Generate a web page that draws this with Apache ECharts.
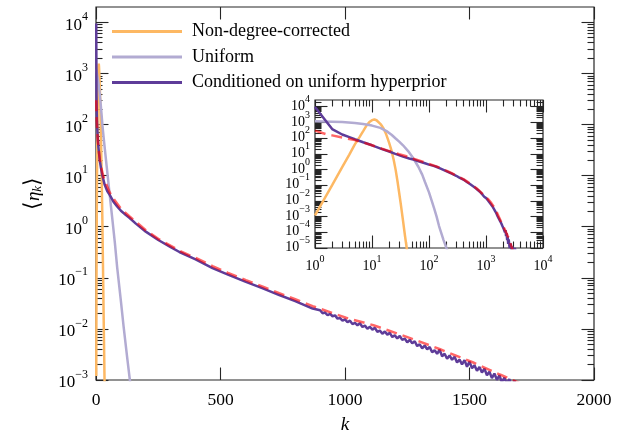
<!DOCTYPE html>
<html>
<head>
<meta charset="utf-8">
<script src="https://cdn.jsdelivr.net/npm/echarts@6.0.0/dist/echarts.min.js"></script>
<style>
html,body{margin:0;padding:0;background:#ffffff;}
#chart{width:628px;height:439px;}
</style>
</head>
<body>
<div id="chart"></div>
<script>
// ---------------- data (k, <eta_k>) ----------------
const kNonDegree = [1,2,3,4,5,6,7,8,9,10,11,12,13,14,15,16,17,18,20,22,24,26,28,30,32,35,38,41,43];
const etaNonDegree = [1.2e-3,0.1,1.4,9,40,112,280,630,1050,1400,1550,1380,1070,810,590,400,250,150,50,16,4.2,0.95,0.18,0.032,6.3e-3,5.6e-4,5.6e-5,7.9e-6,3e-6];

const kUniform = [1,2,3,5,7,10,14,18,22,26,30,35,43,53,65,76,85,100,111,125,136,150,166,180,191,200,210,220];
const etaUniform = [1200,1120,1050,910,790,630,450,280,165,95,60,35,15,5.2,1.5,0.47,0.16,0.035,0.011,0.0028,0.001,2.5e-4,8e-5,3.2e-5,1.8e-5,1.1e-5,7e-6,5e-6];

const kConditioned = [1,2,3,4,5,7,10,15,20,25,35,45,55,70,85,100,120,134,160,200,250,300,335,400,468,530,602,670,736,800,870,
  900,910,920,930,940,950,960,970,980,990,1000,1010,1020,1030,1040,1050,1060,1070,1080,1090,
  1100,1110,1120,1130,1140,1150,1160,1170,1180,1190,1200,1210,1220,1230,1240,1250,1260,1270,1280,1290,
  1300,1310,1320,1330,1340,1350,1360,1370,1380,1390,1400,1410,1420,1430,1440,1450,1460,1470,1480,1490,
  1500,1510,1520,1530,1540,1550,1560,1570,1580,1590,1600,1610,1620,1630,1640,1650,1660,1670,1680,1690,1700,
  1750,1800,1850,1900,1950,2000,2050,2100,2150,2200,2250,2300,2350,2400,2450,2500,2600,2700,2800,2900,3000,3200,3400];
const etaConditioned = [9500,380,170,115,85,55,35,20,14,10.3,6.6,5.0,4.2,3.1,2.5,2.05,1.7,1.5,1.15,0.8,0.55,0.4,0.32,0.23,0.155,0.115,0.083,0.062,0.046,0.035,0.025,
  0.0232,0.0203,0.0209,0.0185,0.0197,0.0177,0.0184,0.0159,0.0163,0.0145,0.0154,0.0135,0.0145,0.0124,0.0131,0.0118,0.0129,0.0109,0.0116,0.0101,
  0.0110,0.00968,0.0105,0.00879,0.00927,0.00805,0.00891,0.00773,0.00836,0.00692,0.00748,0.00650,0.00726,0.00610,0.00650,0.00545,0.00612,0.00521,0.00573,0.00461,
  0.00500,0.00417,0.00473,0.00399,0.00443,0.00348,0.00383,0.00326,0.00393,0.00291,0.00327,0.00260,0.00303,0.00249,0.00286,0.00220,0.00250,0.00203,0.00245,0.00182,
  0.00229,0.00170,0.00195,0.00151,0.00180,0.00140,0.00167,0.00124,0.00145,0.00109,0.00134,0.00101,0.00124,9.0e-4,0.00111,8.5e-4,0.00104,7.6e-4,9.8e-4,7.1e-4,8.6e-4,
  5.6e-4,5.2e-4,3.8e-4,4.0e-4,2.4e-4,2.6e-4,1.6e-4,2.0e-4,1.0e-4,1.4e-4,5.6e-5,8.9e-5,3.2e-5,5.6e-5,1.8e-5,3.5e-5,1.0e-5,2.0e-5,6.3e-6,1.26e-5,5e-6,1e-5,4e-6];

const kFit = [1,1.6,2,3,4,5,7,10,15,20,30,40,55,75,100,134,160,200,250,335,400,468,530,602,670,736,800,870,1004,1114,1248,1382,1515,1622,1700,1800,2000,2200,2450,2800,3200];
const etaFit = [300,175,150,110,88,75,53,35,21,15,9.5,7,4.7,3.3,2.25,1.6,1.25,0.85,0.58,0.34,0.245,0.17,0.125,0.09,0.067,0.05,0.038,0.028,0.0165,0.0118,0.0070,0.0040,0.0022,0.00128,0.00088,5.6e-4,2.5e-4,1.2e-4,5e-5,1.26e-5,2.5e-6];

const seriesNames = ['Non-degree-corrected','Uniform','Conditioned on uniform hyperprior'];

// ---------------- axes / ticks ----------------
const mainXTicks = [0,500,1000,1500,2000];
const mainYMajor = [1e-3,1e-2,1e-1,1,10,100,1000,10000];
const insetXMajor = [1,10,100,1000,10000];
const insetYMajor = [1e-5,1e-4,1e-3,1e-2,1e-1,1,10,100,1000,10000];
const insetYLabelsEven = [1e-4,1e-2,1,100,10000];
const insetYLabelsOdd = [1e-5,1e-3,1e-1,10,1000];
const mainYRange = [1e-3, Math.pow(10,4.3)];
const insetXRange = [1, 1e4];
const insetYRange = [1e-5, Math.pow(10,4.43)];

function minorOf(majors, lo, hi){
  const out=[];
  majors.forEach(m=>{for(let j=2;j<=9;j++){const v=m*j; if(v>lo && v<hi) out.push(v);}});
  return out;
}
const mainYMinor = minorOf(mainYMajor, mainYRange[0], mainYRange[1]);
const insetXMinor = minorOf(insetXMajor, insetXRange[0], insetXRange[1]);
const insetYMinor = minorOf(insetYMajor, insetYRange[0], insetYRange[1]);

const FONT = 'Liberation Serif';
const AXC = '#262626';
const MAJ = 12.5, MIN = 6.5;

function powLabel(v){
  const e = Math.round(Math.log10(v));
  return '{b|10}{s|' + (e < 0 ? '\u2212' + (-e) : String(e)) + '}';
}
function powRich(big, small, pad){
  return {
    b:{fontSize:big,fontFamily:FONT,color:'#000',verticalAlign:'bottom',padding:[pad,0,0,0]},
    s:{fontSize:small,fontFamily:FONT,color:'#000',verticalAlign:'top'}
  };
}

function axis(type, gridIndex, position, range, ticks, len, label, labelValues, extra){
  const a = {
    type: type, gridIndex: gridIndex, position: position,
    min: range[0]*(type==='log'?0.999999:1), max: range[1]*(type==='log'?1.000001:1),
    axisLine:{show:false,onZero:false},
    axisTick:{show:true,inside:true,length:len,customValues:ticks,lineStyle:{color:AXC,width:1.1}},
    axisLabel: label ? Object.assign({customValues:labelValues||ticks,showMinLabel:true,showMaxLabel:true,hideOverlap:false}, label) : {show:false},
    splitLine:{show:false},
    minorTick:{show:false},
    minorSplitLine:{show:false},
    silent:true
  };
  if (type==='log') a.logBase = 10;
  return Object.assign(a, extra||{});
}

const mainYLabel = {show:true,margin:8,formatter:powLabel,rich:powRich(17,12,6)};
const insetYLabel = {show:true,margin:5,formatter:powLabel,rich:powRich(14,10,5),padding:[0,0,6,0]};
const insetXLabel = {show:true,margin:6,formatter:powLabel,rich:powRich(14,10,5)};
const mainXLabel = {show:true,margin:11,fontSize:17.5,fontFamily:FONT,color:'#000',formatter:function(v){return String(v);}};

const xAxes = [
  axis('value',0,'bottom',[0,2000],mainXTicks,MAJ,mainXLabel,null,{
    name:'k',nameLocation:'middle',nameGap:35,
    nameTextStyle:{fontSize:19,fontStyle:'italic',fontFamily:FONT,color:'#000'}}),
  axis('value',0,'top',[0,2000],mainXTicks,MAJ,null),
  axis('log',1,'bottom',insetXRange,insetXMajor,MAJ,insetXLabel),
  axis('log',1,'bottom',insetXRange,insetXMinor,MIN,null),
  axis('log',1,'top',insetXRange,insetXMajor,MAJ,null),
  axis('log',1,'top',insetXRange,insetXMinor,MIN,null)
];
const yAxes = [
  axis('log',0,'left',mainYRange,mainYMajor,MAJ,mainYLabel,null,{
    name:'{a|\u27E8}{e|\u03B7}{k|k}{a|\u27E9}',nameLocation:'middle',nameGap:52,nameRotate:90,
    nameTextStyle:{color:'#000',rich:{
      a:{fontSize:22,fontFamily:FONT,color:'#000',verticalAlign:'top'},
      e:{fontSize:19,fontFamily:FONT,fontStyle:'italic',color:'#000',verticalAlign:'top',padding:[2,0,0,0]},
      k:{fontSize:13,fontFamily:FONT,fontStyle:'italic',color:'#000',verticalAlign:'bottom',padding:[8,0,0,0]}
    }}}),
  axis('log',0,'left',mainYRange,mainYMinor,MIN,null),
  axis('log',0,'right',mainYRange,mainYMajor,MAJ,null),
  axis('log',0,'right',mainYRange,mainYMinor,MIN,null),
  axis('log',1,'left',insetYRange,insetYMajor,MAJ,insetYLabel,insetYLabelsEven),
  axis('log',1,'left',insetYRange,insetYMinor,MIN,insetYLabel,insetYLabelsOdd),
  axis('log',1,'right',insetYRange,insetYMajor,MAJ,null),
  axis('log',1,'right',insetYRange,insetYMinor,MIN,null)
];

// ---------------- series ----------------
function pairs(ks, vs){ return ks.map((k,i)=>[k, vs[i]]); }
function line(name, ks, vs, color, xi, yi, extraLine){
  return {
    type:'line', name:name, xAxisIndex:xi, yAxisIndex:yi,
    data:pairs(ks,vs), showSymbol:false, symbol:'none', smooth:false, clip:true,
    silent:true, animation:false,
    itemStyle:{color:color},
    lineStyle:Object.assign({color:color,width:2.5}, extraLine||{}),
    emphasis:{disabled:true}
  };
}
const colors = ['#fdb863','#b2abd2','#5e3c99','#ff0000'];
const fitStyle = {type:[11,6],opacity:0.6};
const series = [];
[[0,0],[2,4]].forEach(([xi,yi])=>{
  series.push(line(seriesNames[0], kNonDegree, etaNonDegree, colors[0], xi, yi));
  series.push(line(seriesNames[1], kUniform, etaUniform, colors[1], xi, yi));
  series.push(line(seriesNames[2], kConditioned, etaConditioned, colors[2], xi, yi));
  series.push(line('fit', kFit, etaFit, colors[3], xi, yi, fitStyle));
});

const chart = echarts.init(document.getElementById('chart'), null, {renderer:'canvas'});
chart.setOption({
  animation:false,
  backgroundColor:'#ffffff',
  grid:[
    {left:96,top:7,width:498,height:373,show:true,borderColor:AXC,borderWidth:1.2,backgroundColor:'transparent'},
    {left:315,top:100,width:228,height:148,show:true,borderColor:AXC,borderWidth:1.2,backgroundColor:'transparent'}
  ],
  legend:{
    data:seriesNames, orient:'vertical', left:107, top:17.5,
    itemWidth:70, itemHeight:3, itemGap:7.5, icon:'rect', selectedMode:false,
    textStyle:{fontSize:18,fontFamily:FONT,color:'#000',padding:[0,0,0,5]}
  },
  xAxis:xAxes,
  yAxis:yAxes,
  series:series
});
</script>
</body>
</html>
